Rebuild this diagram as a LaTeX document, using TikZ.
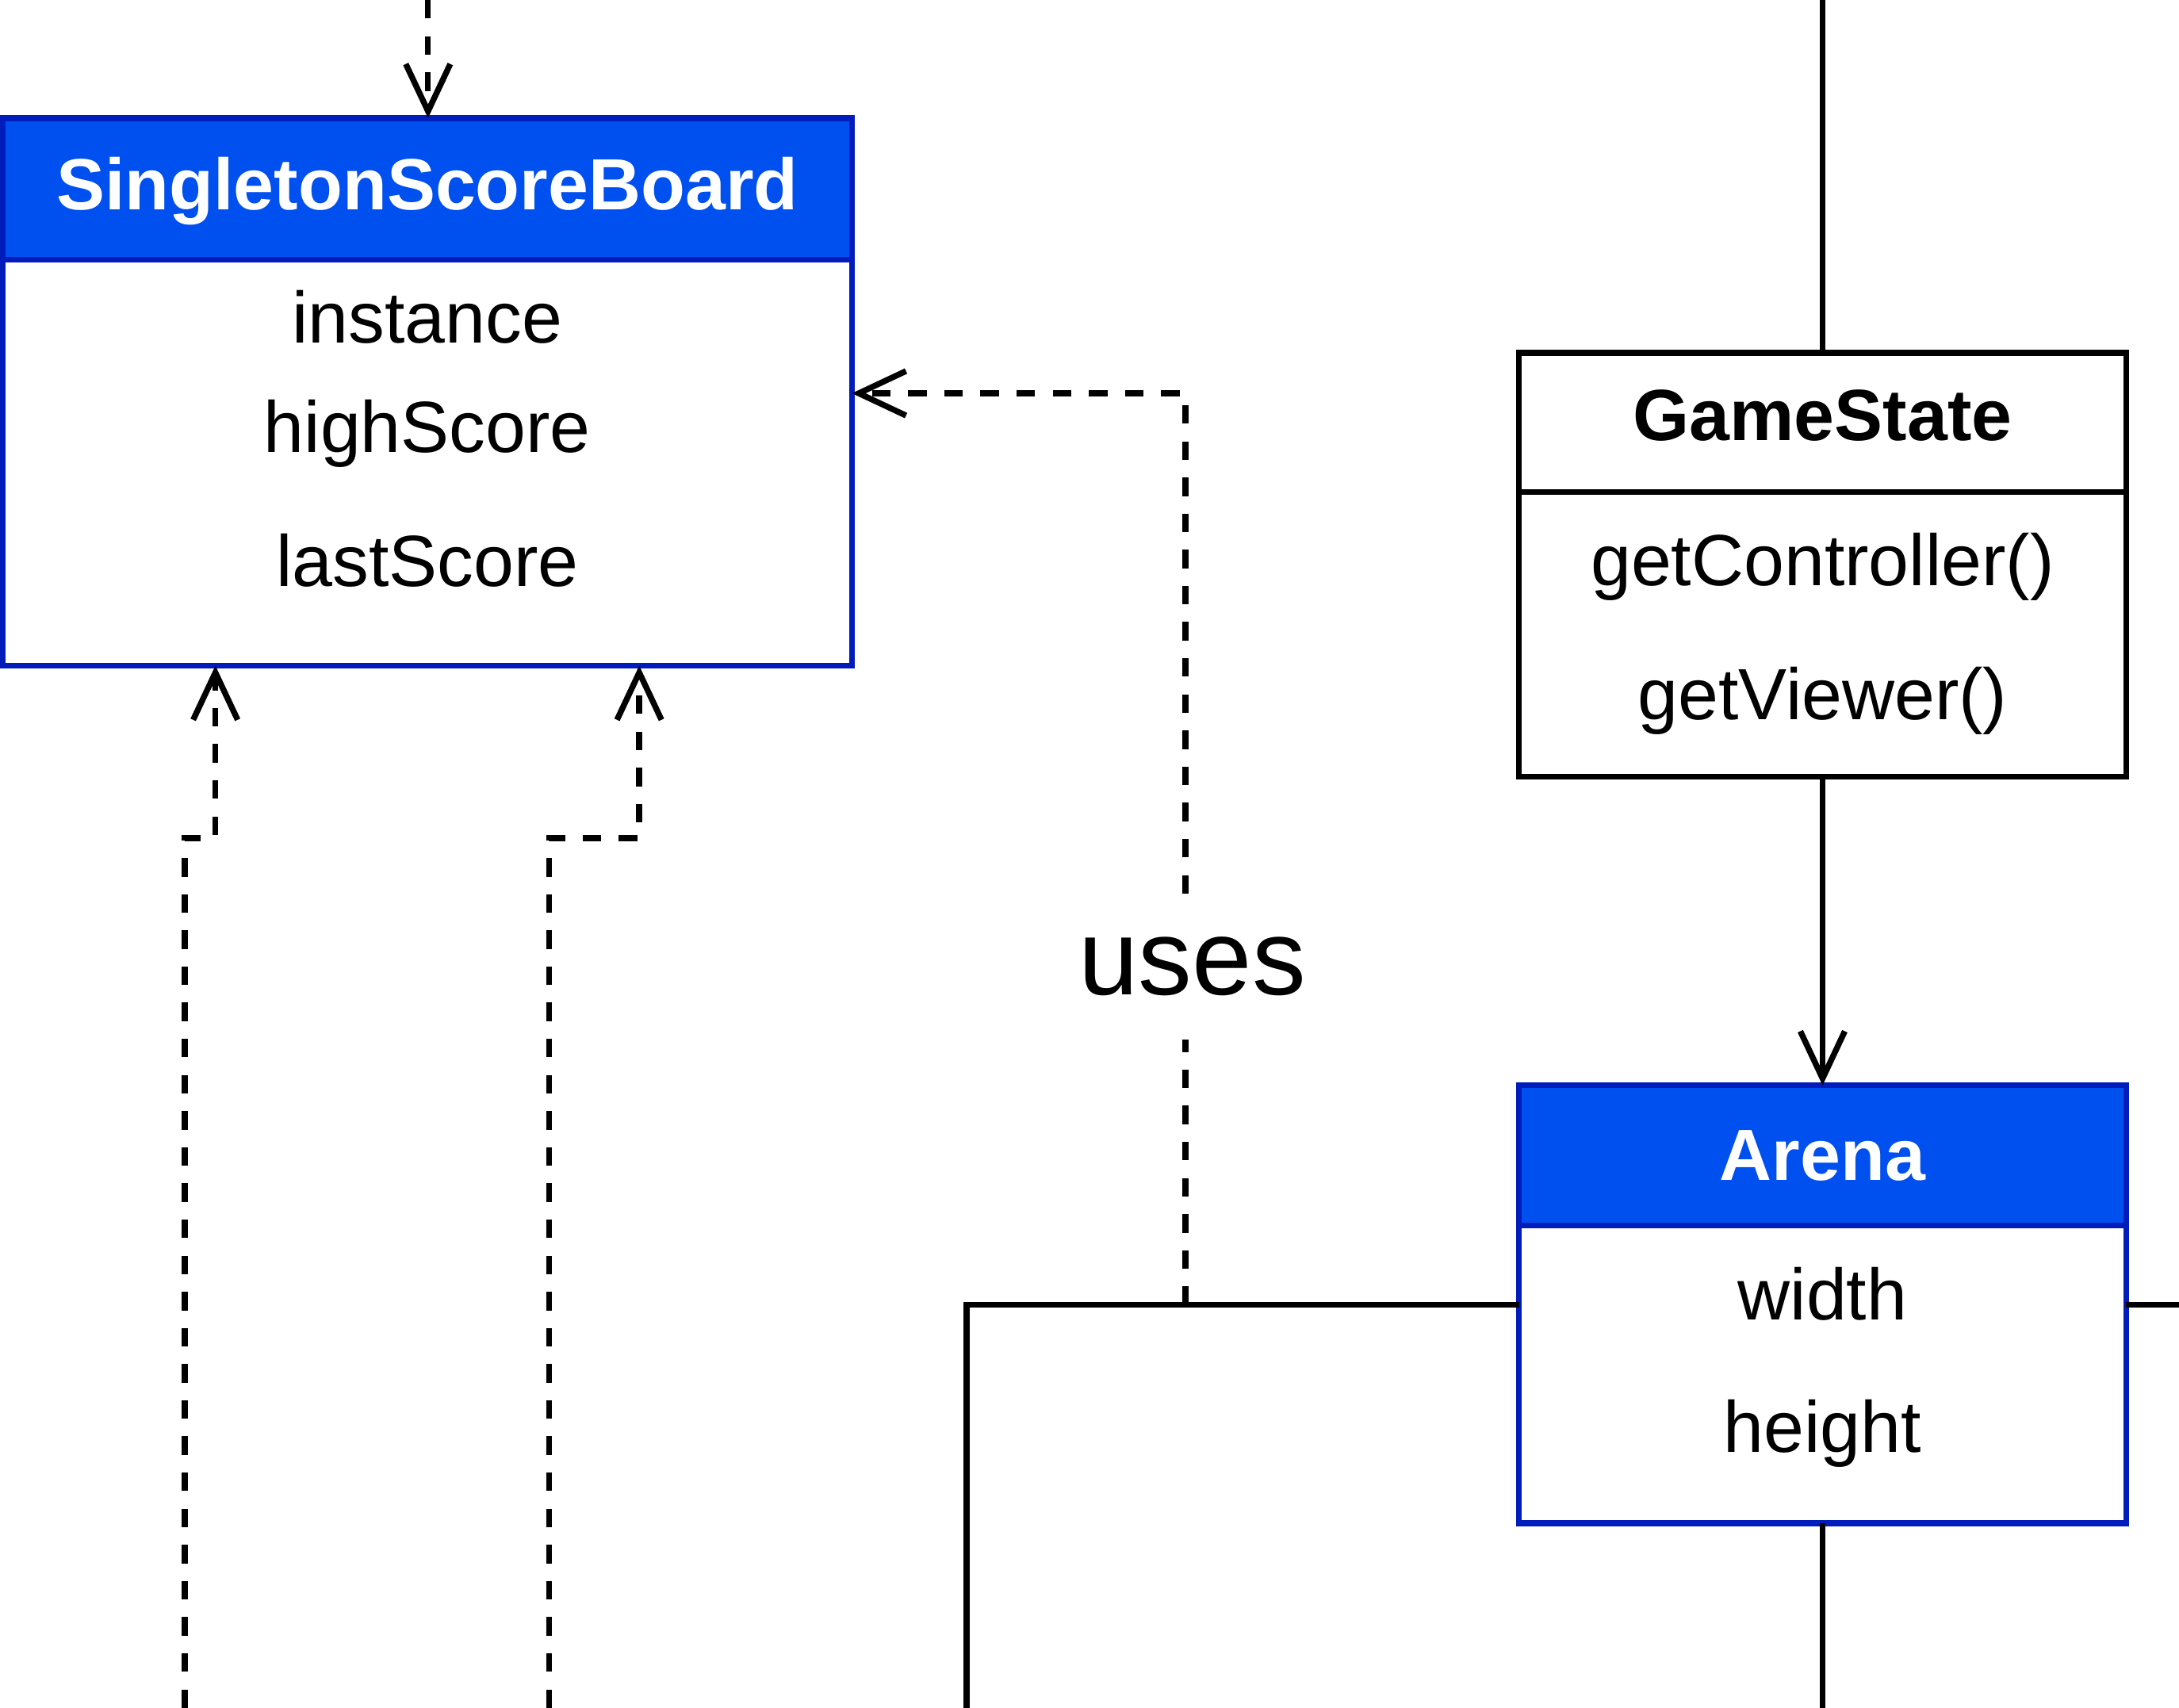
\documentclass[tikz,border=0pt]{standalone}
\usepackage{fontspec}
\setmainfont{Liberation Sans}
\usetikzlibrary{arrows.meta}

\definecolor{umlblue}{RGB}{0,80,239}
\definecolor{umlstroke}{RGB}{0,29,188}

\begin{document}
\begin{tikzpicture}[line width=1.2pt,
    every node/.style={inner sep=0pt,outer sep=0pt},
    blueHead/.style={draw=umlstroke,fill=umlblue},
    blueBody/.style={draw=umlstroke,fill=white},
    plainBox/.style={draw=black,fill=white},
    titleW/.style={anchor=base,text=white,font=\fontsize{14.85pt}{18pt}\selectfont\bfseries},
    titleB/.style={anchor=base,font=\fontsize{14.85pt}{18pt}\selectfont\bfseries},
    member/.style={anchor=base,font=\fontsize{14.85pt}{18pt}\selectfont},
    dashline/.style={dash pattern=on 3.8pt off 3.6pt},
    dep/.style={dashline,-{Straight Barb[length=3.4mm,width=3.2mm]}},
    assoc/.style={-{Straight Barb[length=3.4mm,width=3.2mm]}}]
          \useasboundingbox (0,0) rectangle (15.68,-12.29);

          \node[blueBody,minimum width=6.11cm,minimum height=2.92cm] (ssbBody) at (3.075,-3.33) {};
          \node[blueHead,minimum width=6.11cm,minimum height=1.02cm] (ssbHead) at (3.075,-1.36) {};
          \node[titleW] (ssbName) at (3.075,-1.51) {SingletonScoreBoard};
          \node[member] (ssbInst) at (3.075,-2.47) {instance};
          \node[member] (ssbHigh) at (3.075,-3.255) {highScore};
          \node[member] (ssbLast) at (3.075,-4.22) {lastScore};

          \node[plainBox,minimum width=4.37cm,minimum height=2.05cm] (gsBody) at (13.115,-4.565) {};
          \node[plainBox,minimum width=4.37cm,minimum height=1.00cm] (gsHead) at (13.115,-3.04) {};
          \node[titleB] (gsName) at (13.115,-3.167) {GameState};
          \node[member] (gsCtrl) at (13.115,-4.215) {getController()};
          \node[member] (gsView) at (13.115,-5.18) {getViewer()};

          \node[blueBody,minimum width=4.37cm,minimum height=2.14cm] (arBody) at (13.115,-9.89) {};
          \node[blueHead,minimum width=4.37cm,minimum height=1.01cm] (arHead) at (13.115,-8.315) {};
          \node[titleW] (arName) at (13.115,-8.494) {Arena};
          \node[member] (arWidth) at (13.115,-9.495) {width};
          \node[member] (arHeight) at (13.115,-10.45) {height};

          \node[font=\fontsize{22pt}{26pt}\selectfont,minimum height=1.05cm] (uses) at (8.58,-6.955) {uses};

          \coordinate (gsIn) at (13.115,0);
          \coordinate (arOut) at (13.115,-12.29);
          \coordinate (arR) at (15.68,-9.39);
          \coordinate (arL) at (6.955,-9.39);
          \coordinate (arLB) at (6.955,-12.29);
          \coordinate (usesFoot) at (8.53,-9.39);
          \coordinate (usesBend) at (8.53,-2.83);
          \coordinate (ssbIn) at (3.08,0);
          \coordinate (depA) at (1.33,-12.29);
          \coordinate (depA1) at (1.33,-6.03);
          \coordinate (depA2) at (1.55,-6.03);
          \coordinate (depB) at (3.95,-12.29);
          \coordinate (depB1) at (3.95,-6.03);
          \coordinate (depB2) at (4.60,-6.03);

          \draw (gsIn) -- (gsHead);
          \draw[assoc] (gsBody) -- (arHead);
          \draw (arBody) -- (arOut);
          \draw (arBody.east |- arR) -- (arR);
          \draw (arBody.west |- arL) -- (arL) -- (arLB);

          \draw[dashline] (usesFoot) -- (uses.south -| usesFoot);
          \draw[dep] (uses.north -| usesFoot) -- (usesBend) -- (usesBend -| ssbBody.east);
          \draw[dep] (ssbIn) -- (ssbIn |- ssbHead.north);
          \draw[dep] (depA) -- (depA1) -- (depA2) -- (depA2 |- ssbBody.south);
          \draw[dep] (depB) -- (depB1) -- (depB2) -- (depB2 |- ssbBody.south);
        \end{tikzpicture}
\end{document}
